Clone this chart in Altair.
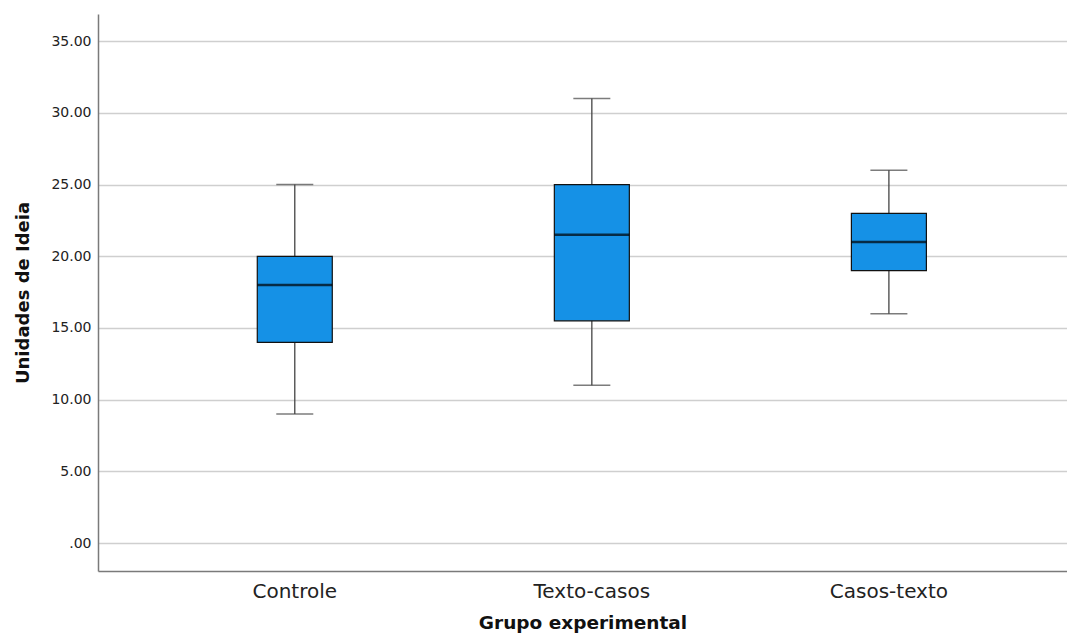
import altair as alt
import pandas as pd

groups = ["Controle", "Texto-casos", "Casos-texto"]
mins = [9, 11, 16]
q1s = [14, 15.5, 19]
medians = [18, 21.5, 21]
q3s = [20, 25, 23]
maxs = [25, 31, 26]
y_ticks = [0, 5, 10, 15, 20, 25, 30, 35]

df = pd.DataFrame({"g": groups, "lo": mins, "q1": q1s, "med": medians, "q3": q3s, "hi": maxs})

xscale = alt.Scale(domain=groups, paddingInner=0, paddingOuter=0.131, align=0.62)
yscale = alt.Scale(domain=[-1.95, 36.9], nice=False, zero=False)

x = alt.X("g:N", scale=xscale, sort=groups,
          axis=alt.Axis(title="Grupo experimental", labelAngle=0, ticks=False,
                        labelPadding=10, titlePadding=12, grid=False))
y_axis = alt.Axis(title="Unidades de Ideia", values=y_ticks, ticks=False, labelPadding=7,
                  titlePadding=18, grid=True,
                  labelExpr="datum.value == 0 ? '.00' : format(datum.value, '.2f')")

base = alt.Chart(df)

whisk_lo = base.mark_rule(color="#444444", strokeWidth=1.3).encode(
    x=x, y=alt.Y("lo:Q", scale=yscale, axis=y_axis), y2="q1:Q")
whisk_hi = base.mark_rule(color="#444444", strokeWidth=1.3).encode(
    x=x, y=alt.Y("q3:Q", scale=yscale), y2="hi:Q")
cap_lo = base.mark_tick(color="#444444", size=37, thickness=1.5).encode(
    x=x, y=alt.Y("lo:Q", scale=yscale))
cap_hi = base.mark_tick(color="#444444", size=37, thickness=1.5).encode(
    x=x, y=alt.Y("hi:Q", scale=yscale))
box = base.mark_bar(size=75, color="#1591E6", stroke="#111111", strokeWidth=1.2).encode(
    x=x, y=alt.Y("q1:Q", scale=yscale), y2="q3:Q")
med = base.mark_tick(color="#000000", size=75, thickness=2.5).encode(
    x=x, y=alt.Y("med:Q", scale=yscale))

chart = alt.layer(whisk_lo, whisk_hi, cap_lo, cap_hi, box, med).properties(
    width=969, height=557,
    autosize=alt.AutoSizeParams(type="none"),
    padding={"left": 90, "top": 6, "right": 0, "bottom": 64},
).configure_view(stroke=None).configure_axis(
    labelFont="DejaVu Sans", titleFont="DejaVu Sans", labelColor="#222222",
    titleColor="#111111", domainColor="#7a7a7a", domainWidth=1.5,
    gridColor="#cfcfcf", gridWidth=1.5,
).configure_axisX(labelFontSize=20, titleFontSize=18.5, titleFontWeight="bold"
).configure_axisY(labelFontSize=14, titleFontSize=18, titleFontWeight="bold")

chart.save("out.html", embed_options={"renderer": "svg", "actions": False})
